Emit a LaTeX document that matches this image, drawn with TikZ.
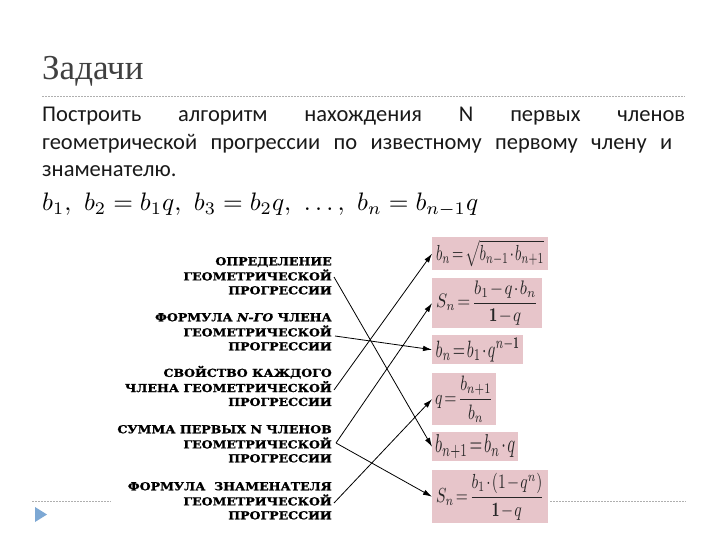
\documentclass[tikz,border=0pt]{standalone}
\usepackage{amsmath}
\usepackage{fontspec}
\usepackage{graphicx}
\newfontfamily\bodyfont{Carlito}
\newfontfamily\titlefont{Liberation Serif}
\newfontfamily\labelfont{DejaVu Serif}[BoldFeatures={FakeBold=1.2}, BoldItalicFeatures={FakeBold=1.2}]
\usetikzlibrary{arrows.meta}
\definecolor{boxpink}{RGB}{231,197,202}
\definecolor{titlegray}{RGB}{64,64,64}
\definecolor{linegray}{RGB}{175,175,175}
\definecolor{bulletblue}{RGB}{125,168,212}
\newcommand\gsp{\hskip 0.22em plus 1fil\relax}
\newcommand\fm[3]{\resizebox*{#1}{#2}{\thinmuskip=1mu\medmuskip=1.5mu\thickmuskip=2mu$#3$}}
\newcommand\lbltext[1]{\scalebox{1.14}[1]{\labelfont\bfseries\fontsize{11}{13.9}\selectfont\begin{tabular}{@{}r@{}}#1\end{tabular}}}
\begin{document}
\begin{tikzpicture}[x=1pt,y=-1pt,
  bodytext/.style={anchor=base west, inner sep=0pt, font=\bodyfont\fontsize{22.5}{27}\selectfont, text=black!90},
  lbl/.style={anchor=east, inner sep=0pt, text=black},
  fbox/.style={fill=boxpink, anchor=north west, inner sep=0pt, text=black!85},
  conn/.style={draw=black, line width=0.8pt, -{Latex[length=9pt,width=5.5pt]}},
  rule/.style={draw=linegray, line width=0.7pt, dash pattern=on 2pt off 1pt}]
\useasboundingbox (0,0) rectangle (720,540);
\fill[white] (0,0) rectangle (720,540);
% title
\node[anchor=base west, inner sep=0pt, font=\titlefont\fontsize{35}{40}\selectfont, text=titlegray] (title) at (42,80) {Задачи};
\coordinate (r1a) at (42,96);
\coordinate (r1b) at (685,96);
\draw[rule] (r1a) -- (r1b);
% body text
\node[bodytext] (l1) at (42,122) {\hbox to 643pt{Построить\gsp алгоритм\gsp нахождения\gsp N\gsp первых\gsp членов}};
\node[bodytext] (l2) at (42,150) {\hbox to 630pt{геометрической\gsp прогрессии\gsp по\gsp известному\gsp первому\gsp члену\gsp и}};
\node[bodytext] (l3) at (42,177) {знаменателю.};
\node[anchor=base west, inner sep=0pt] (eq) at (42,211) {\resizebox{436pt}{!}{$b_1,\ b_2=b_1q,\ b_3=b_2q,\ \ldots,\ b_n=b_{n-1}q$}};
% labels
\node[lbl] (d1) at (332,277) {\lbltext{ОПРЕДЕЛЕНИЕ\\ГЕОМЕТРИЧЕСКОЙ\\ПРОГРЕССИИ}};
\node[lbl] (d2) at (332,333) {\lbltext{ФОРМУЛА {\itshape N-ГО} ЧЛЕНА\\ГЕОМЕТРИЧЕСКОЙ\\ПРОГРЕССИИ}};
\node[lbl] (d3) at (332,388) {\lbltext{СВОЙСТВО КАЖДОГО\\ЧЛЕНА ГЕОМЕТРИЧЕСКОЙ\\ПРОГРЕССИИ}};
\node[lbl] (d4) at (332,445) {\lbltext{СУММА ПЕРВЫХ N ЧЛЕНОВ\\ГЕОМЕТРИЧЕСКОЙ\\ПРОГРЕССИИ}};
\node[lbl] (d5) at (332,502) {\lbltext{ФОРМУЛА\ \ ЗНАМЕНАТЕЛЯ\\ГЕОМЕТРИЧЕСКОЙ\\ПРОГРЕССИИ}};
% formula boxes
\node[fbox, minimum width=116pt, minimum height=33pt] (f1) at (432,237) {\fm{108pt}{27pt}{b_n=\sqrt{b_{n-1}\cdot b_{n+1}}}};
\node[fbox, minimum width=110pt, minimum height=50pt] (f2) at (432,278) {\fm{102pt}{44pt}{S_n=\dfrac{b_1-q\cdot b_n}{\mathbf{1}-q}}};
\node[fbox, minimum width=91pt, minimum height=29pt] (f3) at (432,335) {\fm{84pt}{24pt}{b_n=b_1\cdot q^{n-\mathbf{1}}}};
\node[fbox, minimum width=64pt, minimum height=52pt] (f4) at (432,373) {\fm{58pt}{46pt}{q=\dfrac{b_{n+1}}{b_n}}};
\node[fbox, minimum width=86pt, minimum height=29pt] (f5) at (432,432) {\fm{80pt}{24pt}{b_{n+1}=b_n\cdot q}};
\node[fbox, minimum width=116pt, minimum height=53pt] (f6) at (432,470) {\fm{108pt}{47pt}{S_n=\dfrac{b_1\cdot\left(1-q^n\right)}{\mathbf{1}-q}}};
% connector starts
\coordinate (s1) at (334,277);
\coordinate (s2) at (335,336);
\coordinate (s3) at (334,390);
\coordinate (s4) at (336,443);
\coordinate (s5) at (334,503);
\draw[conn] (s1) -- (f5.west);
\draw[conn] (s2) -- (f3.west);
\draw[conn] (s3) -- (f1.west);
\draw[conn] (s4) -- (f2.west);
\draw[conn] (s4) -- (f6.west);
\draw[conn] (s5) -- (f4.west);
% footer
\coordinate (r2a) at (32,501);
\coordinate (r2b) at (111,501);
\coordinate (r3a) at (550,501);
\coordinate (r3b) at (686,501);
\draw[rule] (r2a) -- (r2b);
\draw[rule] (r3a) -- (r3b);
\fill[bulletblue] (35,507) -- (47,514.5) -- (35,522) -- cycle;
\end{tikzpicture}
\end{document}
